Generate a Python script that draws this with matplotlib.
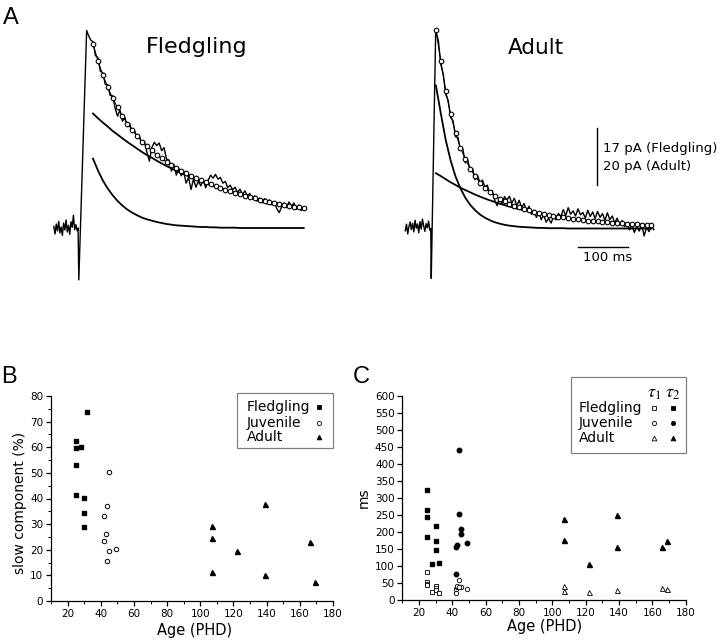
import numpy as np
import matplotlib
matplotlib.use('Agg')
import matplotlib.pyplot as plt
from matplotlib.ticker import MultipleLocator
from matplotlib.lines import Line2D
from matplotlib.patches import Rectangle

plt.rcParams['font.family'] = ['DejaVu Sans']
plt.rcParams['mathtext.fontset'] = 'stix'

W, H = 720, 643

# ---------------- panel A data (time in ms, current in pA) ----------------
fl_base_t = np.arange(-50, 0, 2.5)
fl_base_i = [0.5, -1.8, 1.2, -0.9, 2.0, -1.5, 0.3, -2.2, 1.5, -0.6,
             2.4, -1.2, 0.8, -1.9, 1.9, 0.2, 3.8, -0.5, 1.0, -0.8]
fl_rise_t = [-0.5, 1.0, 17.0]
fl_rise_i = [0.0, -15.5, 59.0]
fl_decay_t = np.arange(20, 461, 5)
fl_decay_i = [57.8, 56.2, 55.6, 51.5, 50.9, 46.8, 46.4, 42.9, 42.8, 39.6,
              39.5, 35.9, 33.4, 35.2, 31.9, 33.0, 30.4, 31.1, 28.6, 29.0,
              26.9, 27.3, 25.0, 25.9, 22.6, 20.0, 24.0, 25.6, 24.6, 25.4,
              23.1, 24.0, 20.6, 20.3, 17.0, 19.0, 15.8, 17.9, 15.6, 16.8,
              13.4, 15.1, 11.5, 14.6, 12.2, 13.9, 12.6, 14.3, 12.0, 14.2,
              15.8, 14.9, 16.0, 14.6, 15.1, 13.4, 13.9, 12.1, 12.8, 11.4,
              12.2, 10.6, 11.6, 10.0, 11.1, 9.7, 10.3, 8.6, 9.6, 8.0,
              8.9, 7.5, 8.8, 7.2, 8.4, 6.9, 7.9, 5.8, 4.6, 6.3,
              7.5, 6.1, 7.8, 6.4, 7.5, 5.6, 6.9, 5.2, 6.3]
fl_fit_t = np.arange(30, 461, 10)
fl_slow = [34.2, 32.8, 31.5, 30.3, 29.0, 27.9, 26.8, 25.7, 24.7, 23.7,
           22.7, 21.8, 21.0, 20.1, 19.3, 18.5, 17.8, 17.1, 16.4, 15.8,
           15.1, 14.5, 13.9, 13.4, 12.8, 12.3, 11.8, 11.4, 10.9, 10.5,
           10.1, 9.6, 9.3, 8.9, 8.5, 8.2, 7.9, 7.6, 7.3, 7.0,
           6.7, 6.4, 6.2, 5.9]
fl_fast = [20.7, 17.2, 14.2, 11.8, 9.8, 8.1, 6.7, 5.5, 4.6, 3.8,
           3.1, 2.6, 2.2, 1.8, 1.5, 1.2, 1.0, 0.8, 0.7, 0.6,
           0.5, 0.4, 0.3, 0.3, 0.2, 0.2, 0.1, 0.1, 0.1, 0.1,
           0.0, 0.0, 0.0, 0.0, 0.0, 0.0, 0.0, 0.0, 0.0, 0.0,
           0.0, 0.0, 0.0, 0.0]

ad_base_t = np.arange(-52.5, 0, 2.5)
ad_base_i = [-0.8, 1.5, -1.9, 0.7, 2.3, -0.4, 1.8, -1.2, 2.9, 0.1,
             1.6, -1.5, 2.4, -0.2, 3.3, 0.9, -1.0, 1.7, 0.2, 2.6, -0.6]
ad_rise_t = [-0.5, 0.5, 9.6]
ad_rise_i = [0.0, -17.5, 69.6]
ad_decay_t = np.arange(15, 456, 5)
ad_decay_i = [66.0, 57.5, 54.2, 47.1, 45.0, 39.0, 37.8, 32.2, 32.0, 27.5,
              27.9, 23.0, 24.1, 20.2, 21.0, 17.1, 18.6, 16.0, 17.0, 14.6,
              15.2, 12.0, 13.3, 9.9, 8.0, 10.9, 8.6, 11.2, 10.0, 11.3,
              8.9, 10.6, 8.1, 9.9, 7.3, 8.8, 6.2, 7.8, 5.0, 6.4,
              3.9, 5.6, 3.1, 4.8, 2.2, 3.6, 1.9, 4.1, 3.0, 5.3,
              4.2, 6.6, 4.5, 7.3, 5.0, 6.2, 4.4, 6.9, 4.8, 5.6,
              3.6, 6.4, 4.2, 5.8, 3.5, 6.0, 3.9, 5.2, 2.9, 5.5,
              3.1, 4.4, 2.0, 3.6, 1.2, 2.8, 0.6, 1.9, -0.5, 1.2,
              -1.4, 0.8, -0.9, 1.5, -2.6, 0.4, -1.1, 1.0, -0.4]
ad_fit_t = np.arange(10, 451, 10)
ad_slow = [19.4, 18.4, 17.3, 16.2, 15.3, 14.3, 13.5, 12.7, 11.9, 11.2,
           10.5, 9.9, 9.3, 8.7, 8.2, 7.7, 7.2, 6.8, 6.4, 6.0,
           5.6, 5.3, 5.0, 4.7, 4.4, 4.1, 3.9, 3.6, 3.4, 3.2,
           3.0, 2.8, 2.7, 2.5, 2.3, 2.2, 2.1, 1.9, 1.8, 1.7,
           1.6, 1.5, 1.4, 1.3, 1.3]
ad_fast = [50.2, 40.4, 31.1, 23.9, 18.3, 14.1, 10.8, 8.3, 6.4, 4.9,
           3.8, 2.9, 2.2, 1.7, 1.3, 1.0, 0.8, 0.6, 0.5, 0.4,
           0.3, 0.2, 0.2, 0.1, 0.1, 0.1, 0.1, 0.0, 0.0, 0.0,
           0.0, 0.0, 0.0, 0.0, 0.0, 0.0, 0.0, 0.0, 0.0, 0.0,
           0.0, 0.0, 0.0, 0.0, 0.0]

# ---------------- panel B data ----------------
fl_age = [25, 25, 25, 25, 28, 30, 30, 30, 32]
fl_slow_pct = [62.4, 59.6, 53.0, 41.4, 60.0, 40.3, 34.2, 29.0, 73.6]
juv_age = [45, 44, 42, 43, 42, 45, 49, 44]
juv_slow_pct = [50.2, 37.2, 33.3, 26.3, 23.3, 19.4, 20.3, 15.5]
ad_age = [107, 107, 107, 122, 139, 139, 166, 169]
ad_slow_pct = [29.4, 24.6, 11.4, 19.5, 37.7, 10.0, 23.0, 7.4]

# ---------------- panel C data ----------------
fl_tau2 = [322, 263, 244, 185, 105, 218, 173, 146, 109]
fl_tau1 = [81, 54, 48, 43, 24, 42, 36, 30, 21]
juv_age_c = [44, 44, 45, 45, 42, 42, 43, 49]
juv_tau2 = [440, 252, 209, 194, 76, 156, 161, 168]
juv_age_c1 = [44, 42, 42, 43, 45, 49, 43, 44]
juv_tau1 = [59, 31, 20, 39, 39, 31, 42, 37]
ad_age_c2 = [107, 107, 122, 139, 139, 166, 169]
ad_tau2 = [237, 177, 107, 249, 156, 156, 172]
ad_age_c1 = [107, 107, 122, 139, 166, 169]
ad_tau1 = [41, 26, 24, 29, 34, 33]


def box(x0, y0, x1, y1):
    # pixel box (top-left origin) -> figure fraction rect
    return [x0 / W, 1 - y1 / H, (x1 - x0) / W, (y1 - y0) / H]


def px(x, y):
    return x / W, 1 - y / H


fig = plt.figure(figsize=(7.2, 6.43), dpi=100)

# ---------------- panel A ----------------
def draw_trace(ax, bt, bi, rt, ri, dt, di, ft, slow, fast):
    t = np.concatenate([bt, rt, dt])
    i = np.concatenate([bi, ri, di])
    ax.plot(t, i, color='black', lw=1.0)
    ax.plot(ft, slow, color='black', lw=1.3)
    ax.plot(ft, fast, color='black', lw=1.3)
    fit = np.array(slow) + np.array(fast)
    ax.plot(ft, fit, color='black', lw=0.7, marker='o', ms=3.3,
            mfc='white', mec='black', mew=0.8)
    ax.axis('off')


axF = fig.add_axes(box(40, 0, 360, 300))
axF.set_xlim(-78.2, 574.9)
axF.set_ylim(-21.5, 68.1)
draw_trace(axF, fl_base_t, fl_base_i, fl_rise_t, fl_rise_i,
           fl_decay_t, fl_decay_i, fl_fit_t, fl_slow, fl_fast)

axA = fig.add_axes(box(380, 0, 700, 300))
axA.set_xlim(-104.1, 549.0)
axA.set_ylim(-25.1, 80.2)
draw_trace(axA, ad_base_t, ad_base_i, ad_rise_t, ad_rise_i,
           ad_decay_t, ad_decay_i, ad_fit_t, ad_slow, ad_fast)

# scale bars
axA.plot([339.4, 339.4], [15.3, 35.3], color='black', lw=1.0)
axA.plot([301, 402], [-6.4, -6.4], color='black', lw=1.0)
axA.text(351, 28.2, '17 pA (Fledgling)', fontsize=9.5, va='center', ha='left')
axA.text(351, 21.6, '20 pA (Adult)', fontsize=9.5, va='center', ha='left')
axA.text(361, -10.2, '100 ms', fontsize=9.5, va='center', ha='center')

fig.text(*px(196.7, 46.7), 'Fledgling', fontsize=16, ha='center', va='center')
fig.text(*px(536, 48), 'Adult', fontsize=15.5, ha='center', va='center')

fig.text(*px(11, 18), 'A', fontsize=17, family='Liberation Sans', ha='center', va='center')
fig.text(*px(9, 377), 'B', fontsize=17, family='Liberation Sans', ha='center', va='center')
fig.text(*px(361, 377), 'C', fontsize=17, family='Liberation Sans', ha='center', va='center')


def style_axes(ax, ymajor, yminor):
    for s in ('top', 'right'):
        ax.spines[s].set_visible(False)
    for s in ('left', 'bottom'):
        ax.spines[s].set_linewidth(0.9)
    ax.xaxis.set_major_locator(MultipleLocator(20))
    ax.xaxis.set_minor_locator(MultipleLocator(10))
    ax.yaxis.set_major_locator(MultipleLocator(ymajor))
    if yminor:
        ax.yaxis.set_minor_locator(MultipleLocator(yminor))
    ax.tick_params(which='major', direction='out', length=3.5, width=0.9,
                   labelsize=7.5, pad=2)
    ax.tick_params(which='minor', direction='out', length=2, width=0.7)


# ---------------- panel B ----------------
axB = fig.add_axes(box(51, 396, 333, 601))
axB.plot(fl_age, fl_slow_pct, ls='none', marker='s', ms=3.0, color='black')
axB.plot(juv_age, juv_slow_pct, ls='none', marker='o', ms=3.2, mfc='white',
         mec='black', mew=0.7)
axB.plot(ad_age, ad_slow_pct, ls='none', marker='^', ms=3.6, color='black')
axB.set_xlim(10, 180)
axB.set_ylim(0, 80)
style_axes(axB, 10, 5)
axB.text(-0.11, 0.48, 'slow component (%)', rotation=90, fontsize=10,
         ha='center', va='center', transform=axB.transAxes)
axB.text(0.51, -0.146, 'Age (PHD)', fontsize=10.5, ha='center', va='center',
         transform=axB.transAxes)

# ---------------- panel C ----------------
axC = fig.add_axes(box(402.3, 395.7, 685.7, 600))
axC.plot(fl_age, fl_tau1, ls='none', marker='s', ms=3.0, mfc='white',
         mec='black', mew=0.6)
axC.plot(fl_age, fl_tau2, ls='none', marker='s', ms=3.0, color='black')
axC.plot(juv_age_c1, juv_tau1, ls='none', marker='o', ms=3.2, mfc='white',
         mec='black', mew=0.6)
axC.plot(juv_age_c, juv_tau2, ls='none', marker='o', ms=3.2, color='black')
axC.plot(ad_age_c1, ad_tau1, ls='none', marker='^', ms=3.6, mfc='white',
         mec='black', mew=0.6)
axC.plot(ad_age_c2, ad_tau2, ls='none', marker='^', ms=3.6, color='black')
axC.set_xlim(10, 180)
axC.set_ylim(0, 600)
style_axes(axC, 50, None)
axC.text(-0.135, 0.5, 'ms', rotation=90, fontsize=10, ha='center',
         va='center', transform=axC.transAxes)
axC.text(0.503, -0.132, 'Age (PHD)', fontsize=10.5, ha='center', va='center',
         transform=axC.transAxes)


# ---------------- legends (drawn by hand in figure pixels) ----------------
def legend_frame(x0, y0, x1, y1):
    fx, fy = px(x0, y1)
    fig.add_artist(Rectangle((fx, fy), (x1 - x0) / W, (y1 - y0) / H,
                             transform=fig.transFigure, fill=False,
                             edgecolor='#808080', lw=0.9))


def legend_marker(x, y, marker, filled, ms):
    fx, fy = px(x, y)
    fig.add_artist(Line2D([fx], [fy], transform=fig.transFigure, ls='none',
                          marker=marker, ms=ms,
                          mfc='black' if filled else 'white',
                          mec='black', mew=0.6))


legend_frame(237.3, 392.7, 332.7, 448.3)
for name, y, mk, ms, filled in [('Fledgling', 406.7, 's', 2.8, True),
                                ('Juvenile', 422.7, 'o', 3.0, False),
                                ('Adult', 437.3, '^', 3.4, True)]:
    fig.text(*px(247, y), name, fontsize=10, ha='left', va='center')
    legend_marker(319.3, y, mk, filled, ms)

legend_frame(570.7, 377.3, 686, 452.7)
fig.text(*px(654, 392.7), r'$\tau_1$', fontsize=13, ha='center', va='center')
fig.text(*px(673, 392.7), r'$\tau_2$', fontsize=13, ha='center', va='center')
for name, y, mk, ms in [('Fledgling', 408.3, 's', 2.8),
                        ('Juvenile', 423.3, 'o', 3.0),
                        ('Adult', 438.3, '^', 3.4)]:
    fig.text(*px(579, y), name, fontsize=10, ha='left', va='center')
    legend_marker(654, y, mk, False, ms)
    legend_marker(673, y, mk, True, ms)

fig.savefig('out.png', dpi=100)
